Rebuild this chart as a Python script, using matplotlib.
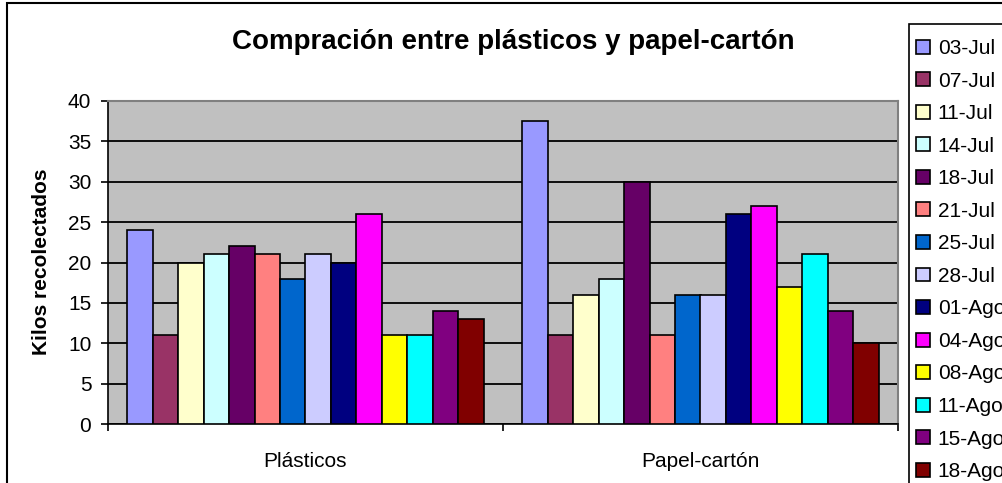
#Comparison chart: plastics vs paper/cardboard
import numpy as np
import matplotlib.pyplot as plt
from matplotlib.patches import Rectangle

plt.rcParams['font.family'] = ['Liberation Sans', 'DejaVu Sans']

categorias = ["Plásticos", "Papel-cartón"]
fechas = ["03-Jul", "07-Jul", "11-Jul", "14-Jul", "18-Jul", "21-Jul", "25-Jul",
          "28-Jul", "01-Ago", "04-Ago", "08-Ago", "11-Ago", "15-Ago", "18-Ago"]
plasticos = [24, 11, 20, 21, 22, 21, 18, 21, 20, 26, 11, 11, 14, 13]
papel = [37.5, 11, 16, 18, 30, 11, 16, 16, 26, 27, 17, 21, 14, 10]
colores = ["#9999FF", "#993366", "#FFFFCC", "#CCFFFF", "#660066", "#FF8080", "#0066CC",
           "#CCCCFF", "#000080", "#FF00FF", "#FFFF00", "#00FFFF", "#800080", "#800000"]

W, H = 1003, 483
fig = plt.figure(figsize=(W/100, H/100), dpi=100)
ax = fig.add_axes([108/W, 1-424/H, 790/W, 323/H])

n = len(fechas)
w = 1/(n + 1.5)
x = np.arange(len(categorias))
for j in range(n):
    vals = [plasticos[j], papel[j]]
    ax.bar(x + (j - (n-1)/2)*w, vals, width=w, color=colores[j],
           edgecolor='black', linewidth=1.2, label=fechas[j], zorder=3)

ax.set_facecolor('#C0C0C0')
ax.set_xlim(-0.5, 1.5)
ax.set_ylim(0, 40)
ax.set_yticks(range(0, 41, 5))
ax.yaxis.grid(True, color='black', linewidth=1.3, zorder=1)
ax.set_axisbelow(True)

ax.set_xticks(x)
ax.set_xticklabels(categorias, fontsize=15)
ax.tick_params(axis='x', which='major', length=0, pad=20)
ax.set_xticks([-0.5, 0.5, 1.5], minor=True)
ax.tick_params(axis='x', which='minor', length=5, width=1.2, direction='out')
ax.tick_params(axis='y', labelsize=15, length=5, width=1.2, pad=7)

for s in ['top', 'right']:
    ax.spines[s].set_color('#808080')
    ax.spines[s].set_linewidth(1.5)
for s in ['left', 'bottom']:
    ax.spines[s].set_color('black')
    ax.spines[s].set_linewidth(1.2)

fig.text(42/W, 1-262/H, "Kilos recolectados", rotation=90, fontsize=15,
         fontweight='bold', ha='center', va='center')
fig.text(513/W, 1-42/H, "Compración entre plásticos y papel-cartón", fontsize=20,
         fontweight='bold', ha='center', va='center')

# outer chart border (cut off on right and bottom)
fig.add_artist(Rectangle((7/W, -0.2), 1.2, 1.2 - 3/H, transform=fig.transFigure,
                         fill=False, edgecolor='black', linewidth=1.5, clip_on=False))
# legend box, also cut off
fig.add_artist(Rectangle((909/W, -0.2), 0.5, 1.2 - 24/H, transform=fig.transFigure,
                         fill=False, edgecolor='black', linewidth=1.2, clip_on=False))

leg = fig.legend(loc='upper left', bbox_to_anchor=(916/W, 1-39/H), fontsize=15,
                 frameon=False, handlelength=0.65, handleheight=0.65, handletextpad=0.4,
                 labelspacing=0.65, borderpad=0, borderaxespad=0)

fig.savefig("out.png", dpi=100)
